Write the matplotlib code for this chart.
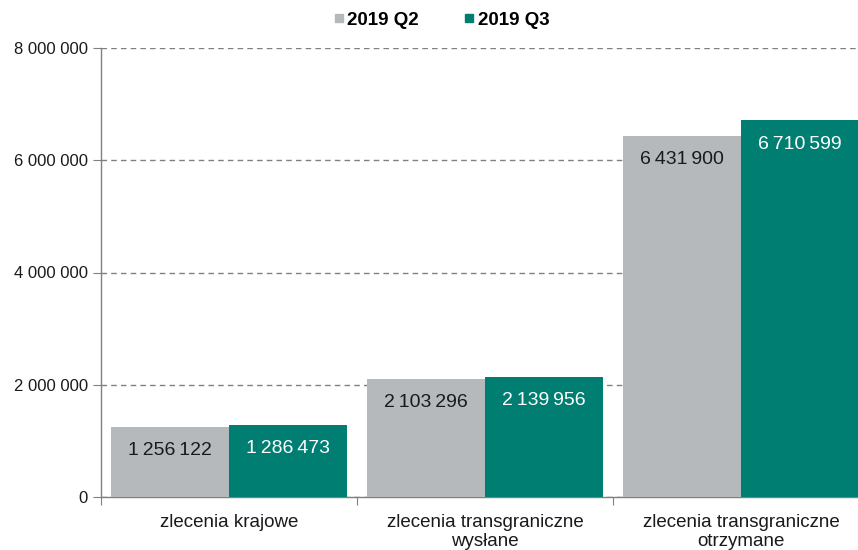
import matplotlib
matplotlib.use("Agg")
import matplotlib.pyplot as plt
from matplotlib.ticker import FuncFormatter
from matplotlib.lines import Line2D
import numpy as np

plt.rcParams['font.family'] = ['Liberation Sans', 'DejaVu Sans']

categories = ["zlecenia krajowe", "zlecenia transgraniczne\nwysłane", "zlecenia transgraniczne\notrzymane"]
series_names = ["2019 Q2", "2019 Q3"]
q2_values = [1256122, 2103296, 6431900]
q3_values = [1286473, 2139956, 6710599]
yticks = [0, 2000000, 4000000, 6000000, 8000000]

colors = ["#B5B9BC", "#007E72"]
label_colors = ["#1a1a1a", "white"]

fig = plt.figure(figsize=(8.58, 5.5), dpi=100)
ax = fig.add_axes([101/858, 53/550, 768/858, 449/550])

x = np.arange(len(categories))
w = 0.461

def fmt(v, sep=" "):
    return f"{int(v):,}".replace(",", sep)

for i, (vals, c, lc) in enumerate(zip([q2_values, q3_values], colors, label_colors)):
    pos = x + (i - 0.5) * w
    bars = ax.bar(pos, vals, width=w, color=c, zorder=3)
    for b, v in zip(bars, vals):
        ax.annotate(fmt(v, "\u2009"), (b.get_x() + b.get_width() / 2, v), xytext=(0, -20.5),
                    textcoords="offset points", ha="center", va="baseline",
                    fontsize=14, color=lc, zorder=4, annotation_clip=False)

ax.set_xlim(-0.5, 2.5)
ax.set_ylim(0, 8000000)
ax.set_yticks(yticks)
ax.yaxis.set_major_formatter(FuncFormatter(lambda v, p: fmt(v)))
ax.yaxis.grid(True, linestyle=(0, (4, 3)), color="#808080", linewidth=1.0, zorder=0)
ax.set_axisbelow(True)

ax.set_xticks([-0.5, 0.5, 1.5, 2.5])
ax.set_xticklabels([])
ax.set_xticks(x, minor=True)
ax.set_xticklabels(categories, minor=True, fontsize=13.5, color="#1a1a1a", linespacing=1.2)
ax.tick_params(axis="x", which="minor", length=0, pad=12)
ax.tick_params(axis="x", which="major", length=6, color="#808080", direction="out")
ax.tick_params(axis="y", length=6, color="#808080", labelsize=12, labelcolor="#1a1a1a")

for s in ["top", "right"]:
    ax.spines[s].set_visible(False)
for s in ["left", "bottom"]:
    ax.spines[s].set_color("#808080")
    ax.spines[s].set_linewidth(1.0)

handles = [Line2D([], [], marker="s", linestyle="", markersize=6, color=c) for c in colors]
fig.legend(handles, series_names, loc="center", bbox_to_anchor=(0.513, 1 - 20/550), ncol=2,
           frameon=False, prop={"weight": "bold", "size": 13.5}, handletextpad=0.05,
           columnspacing=2.3, handlelength=0.8, borderpad=0)

fig.savefig("out.png", dpi=100)
